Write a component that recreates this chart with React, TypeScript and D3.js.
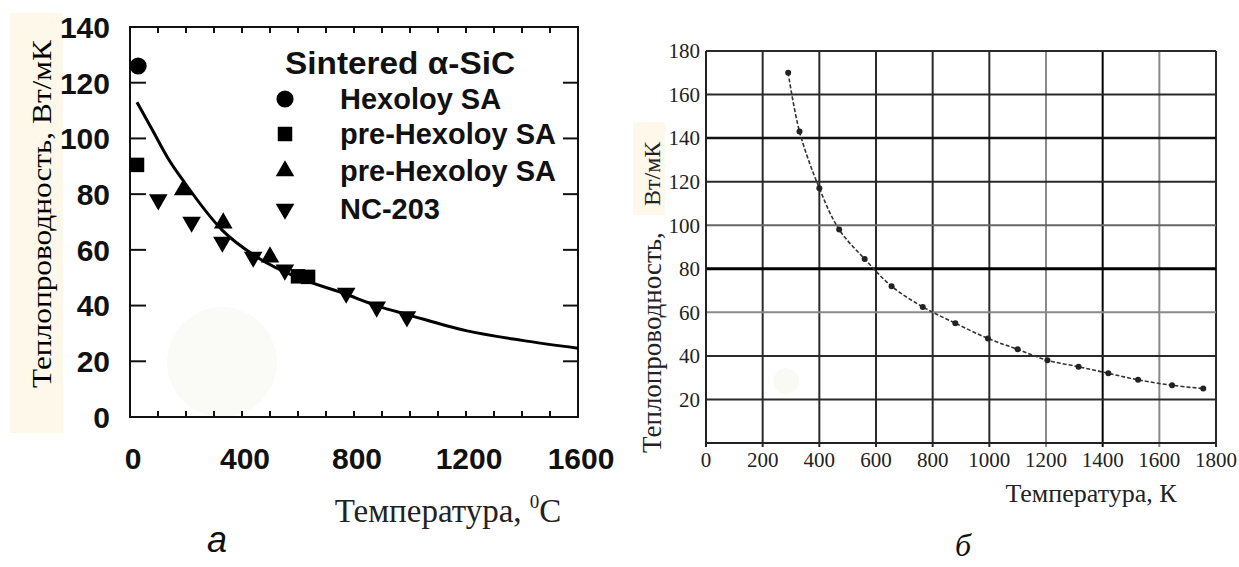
import React from "react";
import * as d3 from "d3";

// ---- left panel (а): sintered alpha-SiC, temperature in °C ----
const leftYTicks = [0, 20, 40, 60, 80, 100, 120, 140];
const leftXLabels = [0, 400, 800, 1200, 1600];
const leftXMinor = [100, 200, 300, 400, 500, 600, 700, 800, 900, 1000, 1100, 1200, 1300, 1400, 1500];

const fitT = [25, 80, 135, 196, 330, 460, 600, 760, 880, 1000, 1200, 1400, 1600];
const fitK = [113, 103, 93, 84, 67, 57, 50, 44.5, 40, 36.5, 31, 27.5, 24.7];

const hexoloyT = [29];
const hexoloyK = [126];
const preHexSqT = [25, 600, 636];
const preHexSqK = [90.5, 50.5, 50.3];
const preHexTriT = [190, 333, 500];
const preHexTriK = [81.5, 69.6, 57.4];
const nc203T = [101, 220, 330, 440, 553, 772, 881, 989];
const nc203K = [78, 70, 62.8, 57.4, 52.8, 44.5, 39.5, 36];

const legendTitle = "Sintered α-SiC";
const legendNames = ["Hexoloy SA", "pre-Hexoloy SA", "pre-Hexoloy SA", "NC-203"];

// ---- right panel (б): temperature in K ----
const rightYTicks = [20, 40, 60, 80, 100, 120, 140, 160, 180];
const rightXTicks = [0, 200, 400, 600, 800, 1000, 1200, 1400, 1600, 1800];
const rightT = [290, 330, 400, 470, 560, 655, 765, 880, 995, 1100, 1205, 1315, 1420, 1525, 1645, 1755];
const rightK = [170, 143, 117, 98, 84.5, 72, 62.5, 55, 48, 43, 38, 35, 32, 29, 26.5, 25];

const yTitle = "Теплопроводность,";
const yUnit = "Вт/мК";

// scanned grid: lines are not all the same darkness
const hGridStyle: Record<number, [string, number]> = {
  80: ["#000", 3],
  140: ["#111", 2.5],
  100: ["#666", 2],
  60: ["#8a8a8a", 2],
};
const vGridStyle: Record<number, [string, number]> = {
  1200: ["#8a8a8a", 2],
  1600: ["#8a8a8a", 2],
  1400: ["#000", 2],
};

const sans = "'Liberation Sans', Arial, sans-serif";
const serif = "'Liberation Serif', 'Times New Roman', serif";

function LeftPanel() {
  const x = d3.scaleLinear().domain([0, 1600]).range([130, 578]);
  const y = d3.scaleLinear().domain([0, 140]).range([417, 27]);

  const fit = d3
    .line<number>()
    .x((d, i) => x(fitT[i]))
    .y((d) => y(d))
    .curve(d3.curveMonotoneX)(fitK);

  const circle = d3.symbol(d3.symbolCircle, 230)();
  const square = d3.symbol(d3.symbolSquare, 210)();
  const tri = d3.symbol(d3.symbolTriangle, 150)();

  const legendMarks = [circle, square, tri, tri];
  const legendRot = [0, 0, 0, 180];

  return (
    <g>
      <circle cx={222} cy={362} r={55} fill="#fafaf7" />
      <rect x={10} y={13} width={53} height={420} fill="#fdf8ea" />
      <text
        transform={`translate(42,214) rotate(-90)`}
        textAnchor="middle"
        dominantBaseline="central"
        fontFamily={serif}
        fontSize={27}
        textLength={348}
        lengthAdjust="spacingAndGlyphs"
      >
        {yTitle} {yUnit}
      </text>

      {/* frame */}
      <rect x={130} y={27} width={448} height={390} fill="none" stroke="#111" strokeWidth={2} />

      {leftYTicks.slice(1, -1).map((v) => (
        <g key={"yt" + v}>
          <line x1={130} x2={146} y1={y(v)} y2={y(v)} stroke="#111" strokeWidth={2} />
          <line x1={578} x2={563} y1={y(v)} y2={y(v)} stroke="#111" strokeWidth={2} />
        </g>
      ))}
      {leftXMinor.map((v) => (
        <g key={"xt" + v}>
          <line x1={x(v)} x2={x(v)} y1={417} y2={411} stroke="#111" strokeWidth={2} />
          <line x1={x(v)} x2={x(v)} y1={27} y2={33} stroke="#111" strokeWidth={2} />
        </g>
      ))}

      {leftYTicks.map((v) => (
        <text
          key={"yl" + v}
          x={110}
          y={y(v)}
          dy="0.36em"
          textAnchor="end"
          fontFamily={sans}
          fontWeight="bold"
          fontSize={30}
          fill="#111"
        >
          {v}
        </text>
      ))}
      {leftXLabels.map((v) => (
        <text
          key={"xl" + v}
          x={x(v) + 3}
          y={469}
          textAnchor="middle"
          fontFamily={sans}
          fontSize={30}
          fontWeight="bold"
          fill="#111"
        >
          {v}
        </text>
      ))}

      <path d={fit || ""} fill="none" stroke="#000" strokeWidth={3} />

      {hexoloyT.map((t, i) => (
        <path key={"c" + i} d={circle || ""} transform={`translate(${x(t)},${y(hexoloyK[i])})`} fill="#000" />
      ))}
      {preHexSqT.map((t, i) => (
        <path key={"s" + i} d={square || ""} transform={`translate(${x(t)},${y(preHexSqK[i])})`} fill="#000" />
      ))}
      {preHexTriT.map((t, i) => (
        <path key={"u" + i} d={tri || ""} transform={`translate(${x(t)},${y(preHexTriK[i])})`} fill="#000" />
      ))}
      {nc203T.map((t, i) => (
        <path
          key={"d" + i}
          d={tri || ""}
          transform={`translate(${x(t)},${y(nc203K[i])}) rotate(180)`}
          fill="#000"
        />
      ))}

      {/* legend */}
      <text
        x={285}
        y={63}
        dy="0.36em"
        fontFamily={sans}
        fontWeight="bold"
        fontSize={31}
        fill="#111"
        textLength={230}
        lengthAdjust="spacingAndGlyphs"
      >
        {legendTitle}
      </text>
      {legendNames.map((n, i) => {
        const cy = [99, 134, 171, 209][i];
        return (
          <g key={"lg" + i}>
            <path
              d={legendMarks[i] || ""}
              transform={`translate(285,${cy}) rotate(${legendRot[i]})`}
              fill="#000"
            />
            <text x={340} y={cy} dy="0.36em" fontFamily={sans} fontWeight="bold" fontSize={29} fill="#111">
              {n}
            </text>
          </g>
        );
      })}

      <text x={448} y={522} textAnchor="middle" fontFamily={serif} fontSize={33} fill="#222">
        Температура,{" "}
        <tspan fontSize={19} dy={-14}>
          0
        </tspan>
        <tspan dy={14}>C</tspan>
      </text>
      <text x={217} y={552} textAnchor="middle" fontFamily={sans} fontStyle="italic" fontSize={36} fill="#111">
        а
      </text>
    </g>
  );
}

function RightPanel() {
  const x = d3.scaleLinear().domain([0, 1800]).range([706, 1216]);
  const y = d3.scaleLinear().domain([0, 180]).range([443, 51]);

  const curve = d3
    .line<number>()
    .x((d, i) => x(rightT[i]))
    .y((d) => y(d))
    .curve(d3.curveCatmullRom)(rightK);

  return (
    <g>
      <circle cx={786} cy={381} r={13} fill="#fafaf5" />
      <rect x={633} y={122} width={32} height={93} fill="#fdf8ea" />

      {rightXTicks.slice(1).map((v) => {
        const st = vGridStyle[v] || ["#2a2a2a", 2];
        return (
          <line key={"vg" + v} x1={x(v)} x2={x(v)} y1={51} y2={447} stroke={st[0]} strokeWidth={st[1]} />
        );
      })}
      {rightYTicks.map((v) => {
        const st = hGridStyle[v] || ["#2a2a2a", 2];
        return (
          <line key={"hg" + v} x1={706} x2={1216} y1={y(v)} y2={y(v)} stroke={st[0]} strokeWidth={st[1]} />
        );
      })}
      <line x1={706} x2={706} y1={51} y2={447} stroke="#222" strokeWidth={2} />
      <line x1={706} x2={1216} y1={443} y2={443} stroke="#222" strokeWidth={2} />

      {rightYTicks.map((v) => (
        <text key={"ry" + v} x={700} y={y(v)} dy="0.35em" textAnchor="end" fontFamily={serif} fontSize={21} fill="#222">
          {v}
        </text>
      ))}
      {rightXTicks.map((v) => (
        <text key={"rx" + v} x={x(v)} y={467} textAnchor="middle" fontFamily={serif} fontSize={21} fill="#222">
          {v}
        </text>
      ))}

      <path d={curve || ""} fill="none" stroke="#333" strokeWidth={1.6} strokeDasharray="4 2" />
      {rightT.map((t, i) => (
        <circle key={"rp" + i} cx={x(t)} cy={y(rightK[i])} r={3} fill="#222" />
      ))}

      <text transform="translate(652,453) rotate(-90)" dy="0.35em" fontFamily={serif} fontSize={27} fill="#222">
        {yTitle}
      </text>
      <text transform="translate(652,206) rotate(-90)" dy="0.35em" fontFamily={serif} fontSize={24} fill="#222">
        {yUnit}
      </text>

      <text x={1091} y={502} textAnchor="middle" fontFamily={serif} fontSize={26} fill="#222">
        Температура, К
      </text>
      <text x={963} y={556} textAnchor="middle" fontFamily={serif} fontStyle="italic" fontSize={32} fill="#111">
        б
      </text>
    </g>
  );
}

export default function App() {
  return (
    <div>
      <style>{`body{margin:0}`}</style>
      <svg width={1239} height={567} style={{ display: "block", background: "#fff" }}>
        <LeftPanel />
        <RightPanel />
      </svg>
    </div>
  );
}
